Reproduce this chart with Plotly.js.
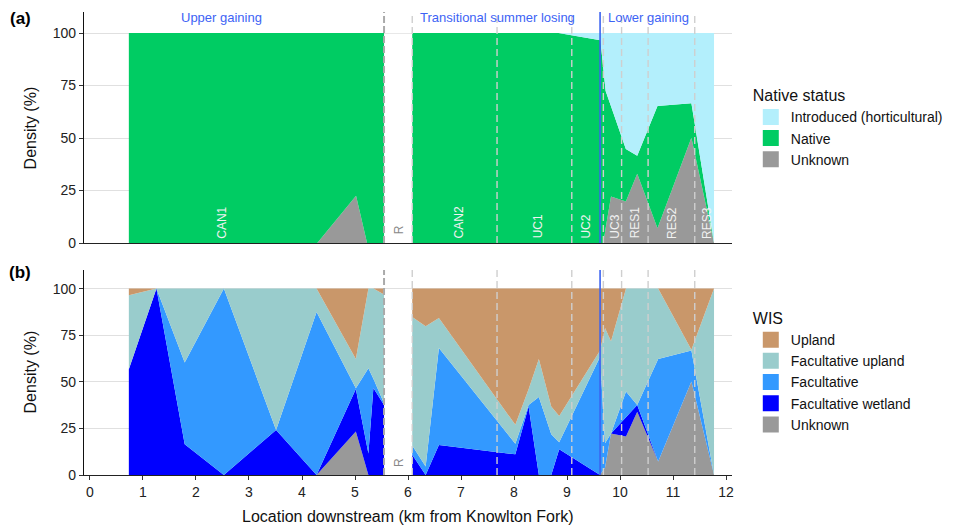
<!DOCTYPE html>
<html>
<head>
<meta charset="utf-8">
<script src="https://cdn.plot.ly/plotly-3.0.1.min.js"></script>
<style>html,body{margin:0;padding:0;background:#fff;}#chart{width:960px;height:530px;}</style>
</head>
<body>
<div id="chart"></div>
<script>
// ---------- Panel (a): native status (percent density) ----------
const xA1 = [0.733, 4.288, 5.02, 5.228, 5.548];
const unknownA1 = [0, 0, 22.5, 0, 0];
const nativeA1 = [100, 100, 77.5, 100, 100];
const introducedA1 = [0, 0, 0, 0, 0];

const xA2 = [6.08, 8.84, 9.63, 9.686, 9.729, 9.83, 10.11, 10.325, 10.707, 11.347, 11.774];
const unknownA2 = [0, 0, 0, 0, 7, 22.2, 19.8, 33, 7, 50.1, 0];
const nativeA2 = [100, 100, 96.5, 82.8, 65.4, 42.9, 25, 8.6, 58.2, 16.4, 0];
const introducedA2 = [0, 0, 3.5, 17.2, 27.6, 34.9, 55.2, 58.4, 34.8, 33.5, 100];

// ---------- Panel (b): WIS (percent density) ----------
const xB1 = [0.733, 1.254, 1.787, 2.526, 3.511, 4.275, 5.016, 5.253, 5.347, 5.548];
const unknownB1 = [0, 0, 0, 0, 0, 0, 23.3, 0, 0, 0];
const facWetB1 = [56.8, 100, 16.5, 0, 24.2, 0, 22.8, 11.6, 46.7, 37.6];
const facB1 = [0, 0, 43.9, 100, 0, 87.5, 0.4, 45.7, 4.9, 0.9];
const facUpB1 = [39.6, 0, 39.6, 0, 75.8, 12.5, 15.7, 42.7, 48.4, 58.3];
const uplandB1 = [3.6, 0, 0, 0, 0, 0, 37.8, 0, 0, 3.2];

const xB2 = [6.08, 6.333, 6.583, 8.025, 8.275, 8.469, 8.703, 8.853, 9.624, 9.718, 9.83, 10.113, 10.325, 10.72, 11.347, 11.774];
const unknownB2 = [0, 0, 0, 0, 0, 0, 0, 0, 0, 4, 22.3, 20.6, 34, 7.2, 50.2, 0];
const facWetB2 = [10.8, 0, 16.1, 11.1, 36.7, 0, 0, 13.8, 0, 0, 0, 10.5, 3.6, 0, 0, 0];
const facB2 = [5, 4.5, 52, 5.7, 0.8, 41.9, 21.8, 3.8, 63.5, 13, 0, 13.7, 0, 55, 16.6, 0];
const facUpB2 = [69, 75.3, 16.1, 10.1, 8.5, 20.3, 14.9, 14.1, 3.3, 61.9, 49.4, 55.2, 62.4, 37.8, 0.4, 100];
const uplandB2 = [15.2, 20.2, 15.8, 73.1, 54, 37.8, 63.3, 68.3, 33.2, 21.1, 28.3, 0, 0, 0, 32.8, 0];

// ---------- Annotation data ----------
const reachBreaks = [6.08, 7.68, 9.09, 9.686, 10.03, 10.53, 11.41];
const diversionBreak = 5.548;
const zoneBoundary = 9.624;
const reachNames = ['CAN1', 'R', 'CAN2', 'UC1', 'UC2', 'UC3', 'RES1', 'RES2', 'RES3'];
const reachLabelX = [2.477, 5.83, 6.96, 8.45, 9.34, 9.89, 10.28, 10.97, 11.63];
const zoneNames = ['Upper gaining', 'Transitional summer losing', 'Lower gaining'];
const zoneLabelX = [2.477, 7.68, 10.53];
const xTicks = [0, 1, 2, 3, 4, 5, 6, 7, 8, 9, 10, 11, 12];
const yTicks = [0, 25, 50, 75, 100];

const nativeCats = ['Introduced (horticultural)', 'Native', 'Unknown'];
const nativeColors = ['#b3effc', '#00cc63', '#999999'];
const wisCats = ['Upland', 'Facultative upland', 'Facultative', 'Facultative wetland', 'Unknown'];
const wisColors = ['#c9976a', '#99cccc', '#3399ff', '#0000ff', '#999999'];

const FONT = 'Liberation Sans, Arial, Helvetica, sans-serif';

function area(x, y, color, group, xa, ya) {
  return {x: x, y: y, type: 'scatter', mode: 'lines', stackgroup: group,
    line: {width: 0, color: color}, fillcolor: color, showlegend: false,
    xaxis: xa, yaxis: ya, hoverinfo: 'skip'};
}
const traces = [];
// panel a, stacking bottom -> top: Unknown, Native, Introduced
[[xA1, 'a1', unknownA1, nativeA1, introducedA1], [xA2, 'a2', unknownA2, nativeA2, introducedA2]].forEach(s => {
  traces.push(area(s[0], s[2], nativeColors[2], s[1], 'x', 'y'));
  traces.push(area(s[0], s[3], nativeColors[1], s[1], 'x', 'y'));
  traces.push(area(s[0], s[4], nativeColors[0], s[1], 'x', 'y'));
});
// panel b, stacking bottom -> top: Unknown, Fac wetland, Facultative, Fac upland, Upland
[[xB1, 'b1', unknownB1, facWetB1, facB1, facUpB1, uplandB1], [xB2, 'b2', unknownB2, facWetB2, facB2, facUpB2, uplandB2]].forEach(s => {
  traces.push(area(s[0], s[2], wisColors[4], s[1], 'x2', 'y2'));
  traces.push(area(s[0], s[3], wisColors[3], s[1], 'x2', 'y2'));
  traces.push(area(s[0], s[4], wisColors[2], s[1], 'x2', 'y2'));
  traces.push(area(s[0], s[5], wisColors[1], s[1], 'x2', 'y2'));
  traces.push(area(s[0], s[6], wisColors[0], s[1], 'x2', 'y2'));
});
// legend entries (square swatches)
nativeCats.forEach((c, i) => traces.push({x: [null], y: [null], type: 'scatter', mode: 'markers', name: c,
  marker: {symbol: 'square', size: 16, color: nativeColors[i]}, legend: 'legend', xaxis: 'x', yaxis: 'y', hoverinfo: 'skip'}));
wisCats.forEach((c, i) => traces.push({x: [null], y: [null], type: 'scatter', mode: 'markers', name: c,
  marker: {symbol: 'square', size: 16, color: wisColors[i]}, legend: 'legend2', xaxis: 'x2', yaxis: 'y2', hoverinfo: 'skip'}));

const shapes = [];
const annotations = [];
[['x', 'y'], ['x2', 'y2']].forEach(ax => {
  // white gap for the bypass reach
  shapes.push({type: 'rect', xref: ax[0], yref: ax[1], x0: diversionBreak, x1: reachBreaks[0], y0: 0, y1: 99.6,
    fillcolor: '#ffffff', line: {width: 0}, layer: 'between'});
  reachBreaks.forEach(b => shapes.push({type: 'line', xref: ax[0], yref: ax[1] + ' domain', x0: b, x1: b, y0: 0, y1: 1,
    line: {color: '#cfcfcf', width: 1.4, dash: '7px,4px'}, layer: 'above'}));
  shapes.push({type: 'line', xref: ax[0], yref: ax[1] + ' domain', x0: diversionBreak, x1: diversionBreak, y0: 0, y1: 1,
    line: {color: '#aaaaaa', width: 2, dash: '7px,3px'}, layer: 'above'});
  shapes.push({type: 'line', xref: ax[0], yref: ax[1] + ' domain', x0: zoneBoundary, x1: zoneBoundary, y0: 0, y1: 1,
    line: {color: '#3b62f0', width: 1.6}, layer: 'above'});
});
zoneNames.forEach((z, i) => annotations.push({text: z, xref: 'x', yref: 'y', x: zoneLabelX[i], y: 107.6,
  xanchor: 'center', yanchor: 'middle', showarrow: false, font: {family: FONT, size: 13, color: '#3d63f5'}}));
reachNames.forEach((r, i) => {
  const isR = r === 'R';
  annotations.push({text: r, xref: 'x', yref: 'y', x: reachLabelX[i], y: isR ? 3.5 : 1.2, textangle: -90,
    xanchor: 'center', yanchor: 'bottom', showarrow: false,
    font: {family: FONT, size: 12, color: isR ? '#888888' : '#f2f2f2'}});
});
annotations.push({text: 'R', xref: 'x2', yref: 'y2', x: reachLabelX[1], y: 3.5, textangle: -90,
  xanchor: 'center', yanchor: 'bottom', showarrow: false, font: {family: FONT, size: 12, color: '#888888'}});
annotations.push({text: '<b>(a)</b>', xref: 'paper', yref: 'paper', x: -0.098, y: 0.987, xanchor: 'center', yanchor: 'middle',
  showarrow: false, font: {family: FONT, size: 17, color: '#000'}});
annotations.push({text: '<b>(b)</b>', xref: 'paper', yref: 'paper', x: -0.098, y: 0.4384, xanchor: 'center', yanchor: 'middle',
  showarrow: false, font: {family: FONT, size: 17, color: '#000'}});
annotations.push({text: 'Density (%)', xref: 'paper', yref: 'paper', x: -0.083, y: 0.749, textangle: -90,
  xanchor: 'center', yanchor: 'middle', showarrow: false, font: {family: FONT, size: 16, color: '#111'}});
annotations.push({text: 'Density (%)', xref: 'paper', yref: 'paper', x: -0.083, y: 0.222, textangle: -90,
  xanchor: 'center', yanchor: 'middle', showarrow: false, font: {family: FONT, size: 16, color: '#111'}});
annotations.push({text: 'Location downstream (km from Knowlton Fork)', xref: 'paper', yref: 'paper', x: 0.5, y: -0.0907,
  xanchor: 'center', yanchor: 'middle', showarrow: false, font: {family: FONT, size: 16, color: '#111'}});

const yax = {range: [0, 110], tickvals: yTicks, ticks: 'outside', ticklen: 4, tickcolor: '#333', showline: true,
  linecolor: '#111', linewidth: 1.2, showgrid: true, gridcolor: '#e0e0e0', gridwidth: 1, zeroline: false,
  tickfont: {family: FONT, size: 14, color: '#222'}, fixedrange: true};
const layout = {
  width: 960, height: 530, paper_bgcolor: '#fff', plot_bgcolor: '#fff',
  margin: {l: 84, r: 226, t: 12, b: 55},
  font: {family: FONT},
  xaxis: {domain: [0, 1], anchor: 'y', range: [-0.113, 12.113], showticklabels: false, ticks: '', showline: true,
    linecolor: '#222', linewidth: 1.3, showgrid: false, zeroline: false},
  yaxis: Object.assign({}, yax, {domain: [0.501, 1], anchor: 'x'}),
  xaxis2: {domain: [0, 1], anchor: 'y2', range: [-0.113, 12.113], tickvals: xTicks, ticks: 'outside', ticklen: 4,
    tickcolor: '#333', showline: true, linecolor: '#222', linewidth: 1.3, showgrid: false, zeroline: false,
    tickfont: {family: FONT, size: 14, color: '#222'}},
  yaxis2: Object.assign({}, yax, {domain: [0, 0.4428], anchor: 'x2'}),
  shapes: shapes, annotations: annotations,
  legend: {x: 1.029, xanchor: 'left', y: 0.852, yanchor: 'top', traceorder: 'normal', itemsizing: 'trace',
    title: {text: 'Native status', font: {family: FONT, size: 16, color: '#111'}},
    font: {family: FONT, size: 14, color: '#111'}, bgcolor: 'rgba(0,0,0,0)'},
  legend2: {x: 1.029, xanchor: 'left', y: 0.371, yanchor: 'top', traceorder: 'normal', itemsizing: 'trace',
    title: {text: 'WIS', font: {family: FONT, size: 16, color: '#111'}},
    font: {family: FONT, size: 14, color: '#111'}, bgcolor: 'rgba(0,0,0,0)'}
};
Plotly.newPlot('chart', traces, layout, {displayModeBar: false, staticPlot: true});
</script>
</body>
</html>
